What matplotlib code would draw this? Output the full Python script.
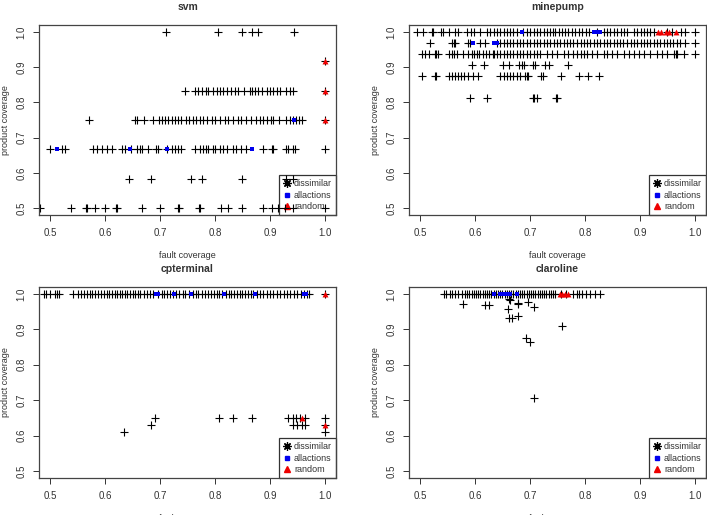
import matplotlib
matplotlib.use('Agg')
import matplotlib.pyplot as plt
from matplotlib.lines import Line2D

plt.rcParams['font.family'] = ['Liberation Sans', 'DejaVu Sans']

# ---------------- svm ----------------
svm_levels = [1.0, 0.917, 0.833, 0.75, 0.667, 0.583, 0.5]
svm_r100 = [0.710, 0.806, 0.850, 0.867, 0.878, 0.944]
svm_r917 = [1.0]
svm_r833 = [0.745, 0.764, 0.770, 0.776, 0.783, 0.788, 0.797, 0.803, 0.809, 0.815, 0.821,
            0.830, 0.836, 0.842, 0.852, 0.864, 0.867, 0.873, 0.879, 0.886, 0.894, 0.900,
            0.906, 0.912, 0.918, 0.930, 0.936, 0.942, 1.0]
svm_r750 = [0.571, 0.655, 0.658, 0.671, 0.688, 0.698, 0.703, 0.709, 0.715, 0.721, 0.727,
            0.733, 0.739, 0.748, 0.753, 0.760, 0.766, 0.773, 0.779, 0.785, 0.794, 0.800,
            0.809, 0.818, 0.824, 0.833, 0.841, 0.848, 0.857, 0.866, 0.874, 0.882, 0.888,
            0.894, 0.901, 0.906, 0.917, 0.930, 0.936, 0.942, 0.948, 0.952, 0.958, 1.0]
svm_r667 = [0.500, 0.521, 0.527, 0.579, 0.585, 0.594, 0.603, 0.612, 0.630, 0.636, 0.648,
            0.658, 0.663, 0.667, 0.679, 0.693, 0.697, 0.712, 0.721, 0.727, 0.733, 0.739,
            0.764, 0.773, 0.779, 0.784, 0.788, 0.797, 0.800, 0.809, 0.814, 0.821, 0.833,
            0.839, 0.848, 0.857, 0.888, 0.903, 0.906, 0.930, 0.933, 0.942, 0.945, 1.0]
svm_r583 = [0.644, 0.683, 0.756, 0.777, 0.850, 0.930, 0.942]
svm_r500 = [0.482, 0.538, 0.565, 0.568, 0.581, 0.600, 0.620, 0.622, 0.667, 0.700, 0.732,
            0.735, 0.771, 0.773, 0.811, 0.823, 0.850, 0.888, 0.903, 0.915, 0.927, 0.942, 1.0]
svm_all_fc = [0.512, 0.645, 0.712, 0.867, 0.944]
svm_all_pc = [0.667, 0.667, 0.667, 0.667, 0.75]
svm_rnd_fc = [1.0, 1.0, 1.0]
svm_rnd_pc = [0.917, 0.833, 0.75]

# ---------------- minepump ----------------
mp_levels = [1.0, 0.969, 0.9375, 0.906, 0.875, 0.8125]
mp_r100 = [0.494, 0.506, 0.521, 0.524, 0.538, 0.541, 0.553, 0.564, 0.570, 0.585, 0.592,
           0.598, 0.609, 0.622, 0.628, 0.634, 0.640, 0.646, 0.652, 0.658, 0.664, 0.670,
           0.676, 0.688, 0.694, 0.700, 0.707, 0.713, 0.719, 0.725, 0.731, 0.737, 0.742,
           0.746, 0.752, 0.758, 0.764, 0.770, 0.776, 0.782, 0.789, 0.795, 0.801, 0.807,
           0.822, 0.834, 0.840, 0.846, 0.852, 0.858, 0.865, 0.871, 0.877, 0.889, 0.895,
           0.901, 0.907, 0.913, 0.919, 0.925, 0.950, 0.959, 0.974, 0.982, 1.0]
mp_r969 = [0.519, 0.558, 0.561, 0.564, 0.588, 0.591, 0.609, 0.618, 0.640, 0.646, 0.652,
           0.658, 0.664, 0.670, 0.676, 0.682, 0.688, 0.694, 0.700, 0.707, 0.713, 0.719,
           0.725, 0.731, 0.737, 0.743, 0.749, 0.755, 0.761, 0.767, 0.773, 0.779, 0.785,
           0.792, 0.798, 0.804, 0.810, 0.816, 0.822, 0.828, 0.834, 0.840, 0.846, 0.852,
           0.858, 0.864, 0.870, 0.877, 0.883, 0.889, 0.895, 0.901, 0.907, 0.913, 0.919,
           0.925, 0.931, 0.937, 0.943, 0.949, 0.955, 0.961, 0.967, 0.973, 0.982, 1.0]
mp_r9375 = [0.503, 0.509, 0.517, 0.527, 0.530, 0.533, 0.552, 0.558, 0.562, 0.568, 0.579,
            0.588, 0.594, 0.598, 0.603, 0.608, 0.615, 0.620, 0.625, 0.632, 0.635, 0.640,
            0.646, 0.652, 0.658, 0.664, 0.670, 0.676, 0.682, 0.688, 0.694, 0.700, 0.707,
            0.713, 0.719, 0.731, 0.740, 0.749, 0.761, 0.770, 0.779, 0.786, 0.792, 0.798,
            0.804, 0.813, 0.822, 0.834, 0.840, 0.849, 0.858, 0.871, 0.880, 0.889, 0.898,
            0.907, 0.919, 0.931, 0.940, 0.950, 0.962, 0.965, 0.968, 0.980, 1.0]
mp_r906 = [0.595, 0.617, 0.651, 0.661, 0.680, 0.685, 0.690, 0.705, 0.710, 0.728, 0.734, 0.770]
mp_r875 = [0.504, 0.527, 0.530, 0.552, 0.558, 0.564, 0.570, 0.574, 0.580, 0.588, 0.596,
           0.606, 0.646, 0.652, 0.658, 0.664, 0.670, 0.676, 0.682, 0.691, 0.694, 0.697,
           0.720, 0.723, 0.756, 0.790, 0.805, 0.826]
mp_r8125 = [0.591, 0.622, 0.705, 0.708, 0.713, 0.748, 0.750]
mp_all_fc = [0.685, 0.817, 0.821, 0.828, 0.596, 0.634, 0.637, 0.640]
mp_all_pc = [1.0, 1.0, 1.0, 1.0, 0.969, 0.969, 0.969, 0.969]
mp_rnd_fc = [0.933, 0.939, 0.947, 0.953, 0.965]
mp_rnd_pc = [1.0, 1.0, 1.0, 1.0, 1.0]

# ---------------- cpterminal ----------------
cp_r100 = [0.489, 0.493, 0.500, 0.509, 0.513, 0.516, 0.541, 0.550, 0.556, 0.561, 0.567,
           0.572, 0.577, 0.582, 0.588, 0.593, 0.598, 0.603, 0.608, 0.613, 0.618, 0.622,
           0.627, 0.631, 0.636, 0.640, 0.645, 0.650, 0.655, 0.660, 0.664, 0.670, 0.676,
           0.681, 0.688, 0.697, 0.703, 0.708, 0.713, 0.718, 0.723, 0.730, 0.735, 0.741,
           0.746, 0.752, 0.760, 0.765, 0.770, 0.776, 0.782, 0.788, 0.793, 0.798, 0.803,
           0.808, 0.813, 0.820, 0.825, 0.830, 0.835, 0.840, 0.845, 0.850, 0.855, 0.860,
           0.865, 0.870, 0.876, 0.882, 0.888, 0.894, 0.900, 0.906, 0.912, 0.918, 0.925,
           0.931, 0.937, 0.943, 0.950, 0.957, 0.962, 0.967, 0.971, 1.0]
cp_low_fc = [0.635, 0.683, 0.690, 0.808, 0.833, 0.868, 0.932, 0.942, 0.948, 0.955, 0.964,
             0.942, 0.950, 0.958, 0.964, 1.0, 1.0, 1.0]
cp_low_pc = [0.610, 0.629, 0.650, 0.650, 0.650, 0.650, 0.650, 0.650, 0.650, 0.650, 0.650,
             0.631, 0.631, 0.631, 0.631, 0.650, 0.631, 0.610]
cp_all_fc = [0.693, 0.697, 0.725, 0.756, 0.816, 0.873, 0.962, 0.965]
cp_all_pc = [1.0, 1.0, 1.0, 1.0, 1.0, 1.0, 1.0, 1.0]
cp_rnd_fc = [1.0, 0.958, 1.0]
cp_rnd_pc = [1.0, 0.650, 0.631]

# ---------------- claroline ----------------
cl_r100 = [0.544, 0.547, 0.555, 0.558, 0.564, 0.570, 0.576, 0.582, 0.586, 0.590, 0.594,
           0.598, 0.602, 0.606, 0.610, 0.614, 0.618, 0.622, 0.626, 0.630, 0.634, 0.638,
           0.642, 0.646, 0.650, 0.654, 0.658, 0.662, 0.666, 0.670, 0.674, 0.678, 0.682,
           0.686, 0.690, 0.694, 0.698, 0.702, 0.706, 0.710, 0.714, 0.718, 0.722, 0.726,
           0.730, 0.734, 0.738, 0.742, 0.746, 0.756, 0.766, 0.779, 0.785, 0.789, 0.795,
           0.801, 0.810, 0.819, 0.828]
cl_low_fc = [0.578, 0.618, 0.625, 0.660, 0.661, 0.667, 0.678, 0.661, 0.664, 0.678, 0.678,
             0.696, 0.708, 0.693, 0.700, 0.759, 0.708]
cl_low_pc = [0.971, 0.969, 0.970, 0.959, 0.932, 0.932, 0.937, 0.986, 0.983, 0.975, 0.972,
             0.978, 0.964, 0.876, 0.864, 0.911, 0.707]
cl_all_fc = [0.634, 0.646, 0.652, 0.658, 0.664, 0.676]
cl_all_pc = [1.0, 1.0, 1.0, 1.0, 1.0, 1.0]
cl_rnd_fc = [0.754, 0.758, 0.764, 0.770]
cl_rnd_pc = [1.0, 1.0, 1.0, 1.0]


def rows(levels, lists):
    fc, pc = [], []
    for lv, xs in zip(levels, lists):
        fc += xs
        pc += [lv] * len(xs)
    return fc, pc


svm_fc, svm_pc = rows(svm_levels, [svm_r100, svm_r917, svm_r833, svm_r750, svm_r667, svm_r583, svm_r500])
mp_fc, mp_pc = rows(mp_levels, [mp_r100, mp_r969, mp_r9375, mp_r906, mp_r875, mp_r8125])
cp_fc = cp_r100 + cp_low_fc
cp_pc = [1.0] * len(cp_r100) + cp_low_pc
cl_fc = cl_r100 + cl_low_fc
cl_pc = [1.0] * len(cl_r100) + cl_low_pc

panels = [
    ('svm', svm_fc, svm_pc, svm_all_fc, svm_all_pc, svm_rnd_fc, svm_rnd_pc),
    ('minepump', mp_fc, mp_pc, mp_all_fc, mp_all_pc, mp_rnd_fc, mp_rnd_pc),
    ('cpterminal', cp_fc, cp_pc, cp_all_fc, cp_all_pc, cp_rnd_fc, cp_rnd_pc),
    ('claroline', cl_fc, cl_pc, cl_all_fc, cl_all_pc, cl_rnd_fc, cl_rnd_pc),
]

# positions des axes (fraction de la figure)
pos = [[0.0552, 0.5825, 0.42, 0.369],
       [0.5785, 0.5825, 0.42, 0.369],
       [0.0552, 0.0718, 0.42, 0.371],
       [0.5785, 0.0718, 0.42, 0.371]]

txt = '#333333'
fig = plt.figure(figsize=(7.07, 5.15), dpi=100)

for p, (nom, fc, pc, afc, apc, rfc, rpc) in zip(pos, panels):
    ax = fig.add_axes(p)
    ax.scatter(fc, pc, marker='+', s=32, c='black', linewidths=0.8, zorder=2)
    ax.scatter(afc, apc, marker='s', s=10, c='#0000ee', linewidths=0, zorder=3)
    ax.scatter(rfc, rpc, marker='^', s=18, c='#ee0000', linewidths=0, zorder=4)
    ax.set_xlim(0.48, 1.02)
    ax.set_ylim(0.48, 1.02)
    ax.set_xticks([0.5, 0.6, 0.7, 0.8, 0.9, 1.0])
    ax.set_yticks([0.5, 0.6, 0.7, 0.8, 0.9, 1.0])
    ax.set_xticklabels(['0.5', '0.6', '0.7', '0.8', '0.9', '1.0'])
    ax.set_yticklabels(['0.5', '0.6', '0.7', '0.8', '0.9', '1.0'], rotation=90, va='center')
    ax.tick_params(labelsize=7, colors=txt, length=4, width=0.7, pad=5)
    for s in ax.spines.values():
        s.set_color('#444444')
        s.set_linewidth(0.9)
    ax.set_title(nom, fontsize=7.5, fontweight='bold', color=txt, pad=10.5)
    ax.set_xlabel('fault coverage', fontsize=6.5, color=txt, labelpad=10)
    ax.set_ylabel('product coverage', fontsize=6.5, color=txt, labelpad=4.5)

    handles = [
        Line2D([], [], ls='', marker=(8, 2, 0), ms=6, mec='black', mew=0.9),
        Line2D([], [], ls='', marker='s', ms=3.5, mfc='#0000ee', mec='#0000ee'),
        Line2D([], [], ls='', marker='^', ms=4, mfc='#ee0000', mec='#ee0000'),
    ]
    leg = ax.legend(handles, ['dissimilar', 'allactions', 'random'], loc='lower right',
                    borderaxespad=0, fancybox=False, framealpha=1, edgecolor='#333333',
                    fontsize=6.5, handlelength=0.8, handletextpad=0.4, labelspacing=0.25,
                    borderpad=0.45)
    leg.get_frame().set_linewidth(0.9)
    for t in leg.get_texts():
        t.set_color(txt)
    leg.set_zorder(1)

fig.savefig('out.png', dpi=100)
